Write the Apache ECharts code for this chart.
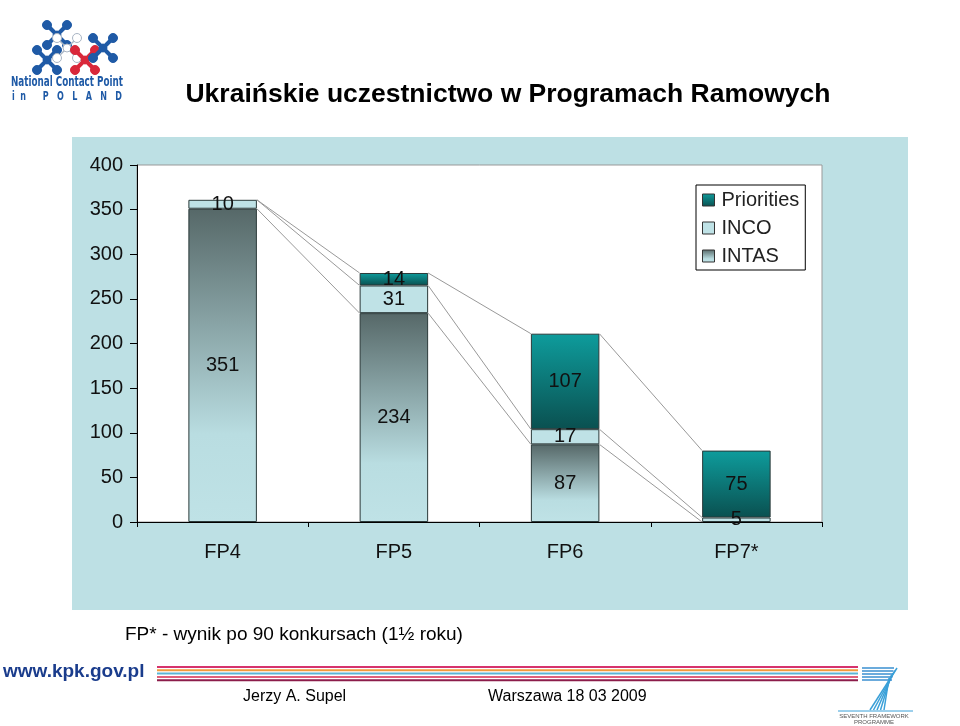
<!DOCTYPE html>
<html>
<head>
<meta charset="utf-8">
<script src="https://cdn.jsdelivr.net/npm/echarts@6/dist/echarts.min.js"></script>
<style>
  html, body { margin: 0; padding: 0; background: #fff; }
  #main { width: 960px; height: 726px; }
</style>
</head>
<body>
<div id="main"></div>
<script>
// dane z wykresu
var categories = ['FP4', 'FP5', 'FP6', 'FP7*'];
var intas = [351, 234, 87, 0];
var inco = [10, 31, 17, 5];
var priorities = [0, 14, 107, 75];
var yTicks = [0, 50, 100, 150, 200, 250, 300, 350, 400];

var myChart = echarts.init(document.getElementById('main'));
var font = 'Arial, "Liberation Sans", sans-serif';

function noZero(arr) {
	return arr.map(function (v) { return v === 0 ? null : v; });
}

// poziomy stosu dla linii łączących słupki
var levels = [intas, inco, priorities];
function cumulative(i, level) {
	var s = 0;
	for (var k = 0; k <= level; k++) s += levels[k][i];
	return s;
}

var segLabel = {
	show: true,
	position: 'inside',
	fontSize: 20,
	fontFamily: font,
	color: '#111'
};

// szerokość tekstu - do ściśnięcia napisów w logo
var ctx = document.createElement('canvas').getContext('2d');
function fitScale(text, f, w) {
	ctx.font = f;
	return w / ctx.measureText(text).width;
}

// logo NCP - proste kształty
var logoItems = [];
var xs = [
	{c: [57, 35], col: '#1f5aa6', fill: true},
	{c: [47, 60], col: '#1f5aa6', fill: true},
	{c: [67, 48], col: '#a9b5c4', fill: false},
	{c: [85, 60], col: '#d9283a', fill: true},
	{c: [103, 48], col: '#1f5aa6', fill: true}
];
xs.forEach(function (x) {
	var cx = x.c[0], cy = x.c[1], d = 10;
	[[-d, -d], [d, -d], [-d, d], [d, d]].forEach(function (o) {
		logoItems.push({type: 'line', shape: {x1: cx, y1: cy, x2: cx + o[0], y2: cy + o[1]},
			style: {stroke: x.col, lineWidth: x.fill ? 4 : 1.5}});
		logoItems.push({type: 'circle', shape: {cx: cx + o[0], cy: cy + o[1], r: 4.5},
			style: {fill: x.fill ? x.col : '#fff', stroke: x.col, lineWidth: 1}});
	});
	logoItems.push({type: 'circle', shape: {cx: cx, cy: cy, r: 4},
		style: {fill: x.fill ? x.col : '#fff', stroke: x.col, lineWidth: 1}});
});
var f1 = 'bold 14px "DejaVu Sans Condensed", Arial';
var f2 = 'bold 12px "DejaVu Sans Condensed", Arial';
var t1 = 'National Contact Point', t2 = 'i  n      P   O   L   A   N   D';
logoItems.push({type: 'text', x: 67, y: 82, scaleX: fitScale(t1, f1, 112), style: {text: t1, fill: '#1f5aa6',
	font: f1, align: 'center', verticalAlign: 'middle'}});
logoItems.push({type: 'text', x: 67, y: 97, scaleX: fitScale(t2, f2, 110), style: {text: t2, fill: '#1f5aa6',
	font: f2, align: 'center', verticalAlign: 'middle'}});

// paski w stopce
var stripeColors = ['#d6336c', '#f29a3a', '#5bb5d5', '#e0607a', '#8c1c4a'];
var stripes = stripeColors.map(function (c, k) {
	return {type: 'rect', shape: {x: 157, y: 666 + k * 3.3, width: 701, height: 2}, style: {fill: c}};
});

// logo FP7
var fp7 = [];
for (var k = 0; k < 5; k++) {
	fp7.push({type: 'line', shape: {x1: 862, y1: 668 + k * 3, x2: 894 - k * 0.5, y2: 668 + k * 3}, style: {stroke: '#3a8fd0', lineWidth: 1.5}});
	fp7.push({type: 'line', shape: {x1: 897 - k * 2, y1: 668 + k * 2.5, x2: 870 + k * 3.5, y2: 710}, style: {stroke: '#3aa0d8', lineWidth: 1.5}});
}
fp7.push({type: 'line', shape: {x1: 838, y1: 711, x2: 913, y2: 711}, style: {stroke: '#3aa0d8', lineWidth: 1}});
fp7.push({type: 'text', x: 874, y: 716, style: {text: 'SEVENTH FRAMEWORK', fill: '#555', font: '6px Arial', align: 'center', verticalAlign: 'middle'}});
fp7.push({type: 'text', x: 874, y: 722, style: {text: 'PROGRAMME', fill: '#555', font: '6px Arial', align: 'center', verticalAlign: 'middle'}});

option = {
	backgroundColor: '#fff',
	animation: false,
	graphic: [
		{type: 'rect', z: -10, shape: {x: 72, y: 137, width: 836, height: 473}, style: {fill: '#bde0e4'}},
		{type: 'text', x: 508, y: 95, style: {text: 'Ukraińskie uczestnictwo w Programach Ramowych',
			font: 'bold 26.5px ' + font, fill: '#000', align: 'center', verticalAlign: 'middle'}},
		{type: 'text', x: 125, y: 635, style: {text: 'FP* - wynik po 90 konkursach (1½ roku)',
			font: '19px ' + font, fill: '#000', verticalAlign: 'middle'}},
		{type: 'text', x: 3, y: 672, style: {text: 'www.kpk.gov.pl',
			font: 'bold 19px ' + font, fill: '#1a3c8c', verticalAlign: 'middle'}},
		{type: 'text', x: 243, y: 697, style: {text: 'Jerzy A. Supel',
			font: '16px ' + font, fill: '#000', verticalAlign: 'middle'}},
		{type: 'text', x: 488, y: 697, style: {text: 'Warszawa 18 03 2009',
			font: '16px ' + font, fill: '#000', verticalAlign: 'middle'}},
		{type: 'group', children: logoItems},
		{type: 'group', children: stripes},
		{type: 'group', children: fp7}
	],
	grid: {
		left: 137, right: 138, top: 165, bottom: 204,
		show: true, backgroundColor: '#fff', borderColor: '#999', borderWidth: 1
	},
	legend: {
		orient: 'vertical',
		left: 696, top: 185,
		data: ['Priorities', 'INCO', 'INTAS'],
		icon: 'rect',
		itemWidth: 12, itemHeight: 12, itemGap: 8,
		padding: [5, 6, 4, 6],
		backgroundColor: '#fff',
		borderColor: '#000', borderWidth: 1, borderRadius: 0,
		textStyle: {fontSize: 20, fontFamily: font, color: '#222', padding: [0, 0, 0, 2]},
		itemStyle: {borderColor: '#333', borderWidth: 1}
	},
	xAxis: {
		type: 'category',
		data: categories,
		axisLine: {lineStyle: {color: '#000', width: 1}},
		axisTick: {show: true, alignWithLabel: false, length: 5, inside: false, lineStyle: {color: '#000'}},
		axisLabel: {fontSize: 20, fontFamily: font, color: '#111', margin: 20}
	},
	yAxis: {
		type: 'value',
		min: yTicks[0], max: yTicks[yTicks.length - 1], interval: 50,
		splitLine: {show: false},
		axisLine: {show: true, lineStyle: {color: '#000', width: 1}},
		axisTick: {show: true, length: 7, lineStyle: {color: '#000'}},
		axisLabel: {fontSize: 20, fontFamily: font, color: '#111', margin: 14}
	},
	series: [
		{
			name: 'INTAS', type: 'bar', stack: 'all', barWidth: '40%',
			data: noZero(intas),
			label: segLabel,
			itemStyle: {
				borderColor: '#2b3a3a', borderWidth: 1,
				color: new echarts.graphic.LinearGradient(0, 0, 0, 1, [
					{offset: 0, color: '#566868'},
					{offset: 0.72, color: '#b9dde1'},
					{offset: 1, color: '#bfe2e6'}
				])
			}
		},
		{
			name: 'INCO', type: 'bar', stack: 'all', barWidth: '40%',
			data: noZero(inco),
			label: segLabel,
			itemStyle: {borderColor: '#2b3a3a', borderWidth: 1, color: '#bfe2e6'}
		},
		{
			name: 'Priorities', type: 'bar', stack: 'all', barWidth: '40%',
			data: noZero(priorities),
			label: segLabel,
			itemStyle: {
				borderColor: '#2b3a3a', borderWidth: 1,
				color: new echarts.graphic.LinearGradient(0, 0, 0, 1, [
					{offset: 0, color: '#0e9c9c'},
					{offset: 1, color: '#0a5050'}
				])
			}
		},
		{
			// linie serii łączące kolejne słupki
			name: 'lines', type: 'custom', silent: true, z: 1,
			data: categories.slice(0, -1).map(function (c, i) { return [i]; }),
			renderItem: function (params, api) {
				var i = api.value(0);
				var half = api.size([1, 0])[0] * 0.2;
				var children = [];
				for (var lv = 0; lv < levels.length; lv++) {
					var p1 = api.coord([i, cumulative(i, lv)]);
					var p2 = api.coord([i + 1, cumulative(i + 1, lv)]);
					children.push({type: 'line', shape: {x1: p1[0] + half, y1: p1[1], x2: p2[0] - half, y2: p2[1]},
						style: {stroke: '#999', lineWidth: 1}});
				}
				return {type: 'group', children: children};
			}
		}
	]
};
myChart.setOption(option);
</script>
</body>
</html>
